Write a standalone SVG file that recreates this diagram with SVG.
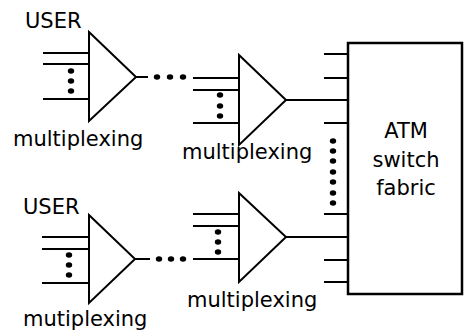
<svg xmlns="http://www.w3.org/2000/svg" width="464" height="332" viewBox="0 0 464 332">
<style>
  .tri { fill: #fff; stroke: #000; stroke-width: 2; stroke-linejoin: miter; }
  .box { fill: #fff; stroke: #000; stroke-width: 2.5; }
  .ln { stroke: #000; stroke-width: 1.8; fill: none; }
  .dot { fill: #000; }
  .t { font-family: "DejaVu Sans", "Liberation Sans", sans-serif; font-size: 21px; fill: #000; }
  .c { text-anchor: middle; }
</style>
<defs>
  <ellipse id="d" cx="0" cy="0" rx="3.2" ry="2.8"/>
</defs>
<rect width="464" height="332" fill="#fff"/>

<g id="connectors">
  <!-- top mux 1 inputs -->
  <path class="ln" d="M43 53H89M43 64H89M43 99H89"/>
  <!-- top mux1 to mux2 -->
  <path class="ln" d="M136 77H148M193 78H239"/>
  <!-- top mux 2 inputs -->
  <path class="ln" d="M193 90H239M193 123H239"/>
  <!-- top mux2 output -->
  <path class="ln" d="M286 100H348"/>
  <!-- bottom mux 1 inputs -->
  <path class="ln" d="M42 237H89M42 249H89M42 283H89"/>
  <!-- bottom mux1 to mux2 -->
  <path class="ln" d="M135 259H150M193 259H239"/>
  <!-- bottom mux 2 inputs -->
  <path class="ln" d="M193 214H239M193 226H239"/>
  <!-- bottom mux2 output -->
  <path class="ln" d="M286 237H348"/>
  <!-- switch input stubs -->
  <path class="ln" d="M324 54H348M324 78H348M324 123H348M324 214H348M324 260H348M324 282H348"/>
  <!-- ellipsis dots -->
  <g class="dot">
    <use href="#d" x="71" y="71"/>
    <use href="#d" x="71" y="81"/>
    <use href="#d" x="71" y="91"/>
    <use href="#d" x="157" y="77"/>
    <use href="#d" x="170" y="77"/>
    <use href="#d" x="183" y="77"/>
    <use href="#d" x="220" y="95"/>
    <use href="#d" x="220" y="106"/>
    <use href="#d" x="220" y="116"/>
    <use href="#d" x="69" y="255"/>
    <use href="#d" x="69" y="265"/>
    <use href="#d" x="69" y="275"/>
    <use href="#d" x="159" y="259"/>
    <use href="#d" x="171" y="259"/>
    <use href="#d" x="183" y="259"/>
    <use href="#d" x="218" y="232"/>
    <use href="#d" x="218" y="242"/>
    <use href="#d" x="218" y="252"/>
    <use href="#d" x="333" y="141"/>
    <use href="#d" x="333" y="151"/>
    <use href="#d" x="333" y="161"/>
    <use href="#d" x="333" y="172"/>
    <use href="#d" x="333" y="182"/>
    <use href="#d" x="333" y="193"/>
    <use href="#d" x="333" y="203"/>
  </g>
</g>

<g id="user-top">
  <text class="t" x="25" y="28">USER</text>
</g>
<g id="mux-top-1">
  <polygon class="tri" points="89,32 136,77 89,121"/>
  <text class="t" x="13" y="146">multiplexing</text>
</g>
<g id="mux-top-2">
  <polygon class="tri" points="239,55 286,100 239,145"/>
  <text class="t" x="182" y="159">multiplexing</text>
</g>
<g id="user-bottom">
  <text class="t" x="23" y="214">USER</text>
</g>
<g id="mux-bottom-1">
  <polygon class="tri" points="89,215 135,259 89,303"/>
  <text class="t" x="23" y="326">mutiplexing</text>
</g>
<g id="mux-bottom-2">
  <polygon class="tri" points="239,193 286,237 239,282"/>
  <text class="t" x="187" y="307">multiplexing</text>
</g>
<g id="atm-switch">
  <rect class="box" x="348" y="43" width="114" height="251"/>
  <text class="t c" x="406" y="138">ATM</text>
  <text class="t c" x="406" y="167">switch</text>
  <text class="t c" x="406" y="195">fabric</text>
</g>
</svg>
